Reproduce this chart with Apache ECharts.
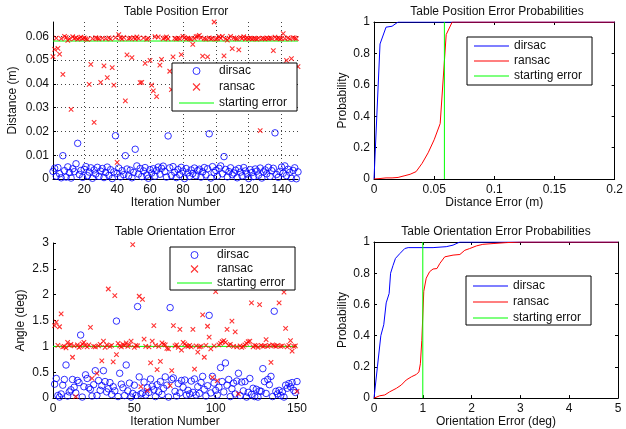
<!DOCTYPE html>
<html><head><meta charset="utf-8">
<script src="https://cdn.jsdelivr.net/npm/echarts@6/dist/echarts.min.js"></script>
<style>html,body{margin:0;padding:0;background:#fff}#c{width:626px;height:429px}</style>
</head><body><div id="c"></div>
<script>
// ---- Table Position Error (m), iterations 1..150 ----
const dirsacPos = [
0.0032,0.0045,0.0012,0.0048,0.0022,0.0005,0.0098,0.0035,0.0008,0.0051,
0.0027,0.0004,0.0043,0.0031,0.0064,0.0150,0.0019,0.0036,0.0007,0.0041,
0.0052,0.0014,0.0029,0.0047,0.0003,0.0038,0.0021,0.0049,0.0011,0.0033,
0.0044,0.0006,0.0027,0.0050,0.0015,0.0039,0.0002,0.0030,0.0182,0.0024,
0.0046,0.0009,0.0035,0.0018,0.0098,0.0042,0.0013,0.0037,0.0005,0.0028,
0.0125,0.0055,0.0021,0.0044,0.0010,0.0034,0.0048,0.0016,0.0003,0.0039,
0.0025,0.0043,0.0012,0.0036,0.0050,0.0020,0.0045,0.0054,0.0031,0.0008,
0.0181,0.0047,0.0015,0.0052,0.0028,0.0006,0.0040,0.0019,0.0049,0.0033,
0.0002,0.0044,0.0026,0.0011,0.0038,0.0023,0.0046,0.0014,0.0035,0.0041,
0.0008,0.0030,0.0048,0.0017,0.0043,0.0190,0.0004,0.0052,0.0027,0.0036,
0.0012,0.0045,0.0055,0.0022,0.0094,0.0040,0.0009,0.0031,0.0047,0.0018,
0.0025,0.0037,0.0005,0.0044,0.0029,0.0013,0.0048,0.0034,0.0021,0.0002,
0.0039,0.0027,0.0010,0.0042,0.0033,0.0016,0.0046,0.0004,0.0030,0.0038,
0.0022,0.0049,0.0011,0.0035,0.0045,0.0194,0.0019,0.0007,0.0032,0.0050,
0.0024,0.0055,0.0014,0.0041,0.0028,0.0003,0.0036,0.0047,0.0001,0.0030];
const ransacPos = [
0.0514,0.0545,0.0592,0.0549,0.0525,0.0590,0.0440,0.0600,0.0595,0.0583,
0.0589,0.0293,0.0598,0.0591,0.0594,0.0588,0.0592,0.0596,0.0590,0.0593,
0.0589,0.0587,0.0398,0.0482,0.0590,0.0238,0.0594,0.0591,0.0589,0.0406,
0.0592,0.0476,0.0590,0.0426,0.0593,0.0589,0.0468,0.0395,0.0594,0.0070,
0.0607,0.0592,0.0589,0.0595,0.0328,0.0522,0.0590,0.0592,0.0510,0.0594,
0.0589,0.0597,0.0591,0.0405,0.0406,0.0593,0.0486,0.0588,0.0591,0.0499,
0.0395,0.0370,0.0598,0.0346,0.0597,0.0479,0.0503,0.0590,0.0593,0.0597,
0.0589,0.0453,0.0376,0.0513,0.0591,0.0589,0.0592,0.0590,0.0523,0.0600,
0.0594,0.0589,0.0592,0.0590,0.0588,0.0566,0.0591,0.0598,0.0600,0.0604,
0.0593,0.0517,0.0590,0.0588,0.0513,0.0593,0.0589,0.0591,0.0660,0.0588,
0.0590,0.0598,0.0592,0.0600,0.0518,0.0589,0.0584,0.0592,0.0600,0.0548,
0.0593,0.0590,0.0589,0.0543,0.0595,0.0591,0.0598,0.0589,0.0593,0.0590,
0.0592,0.0589,0.0591,0.0590,0.0588,0.0592,0.0203,0.0590,0.0591,0.0589,
0.0593,0.0590,0.0592,0.0591,0.0540,0.0596,0.0590,0.0592,0.0589,0.0591,
0.0611,0.0590,0.0499,0.0593,0.0589,0.0506,0.0594,0.0592,0.0590,0.0472];
const startPos = 0.058;

// ---- Table Orientation Error (deg), iterations 1..150 ----
const dirsacOri = [
0.27,0.38,0.05,0.02,0.08,0.25,0.36,0.64,0.04,0.12,
0.16,0.36,0.21,0.10,0.34,0.30,1.22,0.02,0.22,0.45,
0.38,0.20,0.17,0.04,0.26,0.53,0.05,0.34,0.15,0.24,
0.53,0.32,0.12,0.18,0.30,0.07,0.22,0.14,1.49,0.03,
0.48,0.27,0.20,0.05,0.64,0.14,0.29,0.02,0.09,0.25,
0.05,1.77,0.41,0.08,0.10,0.31,0.06,0.20,0.11,0.37,
0.23,0.16,0.03,0.26,0.12,0.32,0.07,0.19,0.41,0.25,
0.02,1.75,0.36,0.39,0.13,0.04,0.28,0.10,0.34,0.21,
0.35,0.06,0.15,0.08,0.33,0.11,0.37,0.06,0.22,0.09,
0.30,0.42,0.17,0.04,0.24,1.60,0.10,0.42,0.29,0.15,
0.06,0.21,0.59,0.32,0.12,0.68,0.25,0.36,0.03,0.18,
0.29,0.08,0.33,0.48,0.05,0.31,0.14,0.32,0.02,0.11,
0.38,0.07,0.19,0.03,0.17,0.02,0.14,0.13,0.57,0.32,
0.09,0.36,0.26,0.42,0.03,1.68,0.13,0.08,0.15,0.05,
0.12,0.02,0.25,0.19,0.28,0.22,0.30,0.15,0.11,0.32];
const ransacOri = [
1.40,1.47,1.02,1.38,1.63,0.99,1.00,0.97,1.08,1.02,
1.04,0.79,1.01,0.03,1.03,0.98,1.00,1.05,1.08,1.02,
0.99,1.03,1.37,0.38,1.00,0.99,0.48,1.01,1.04,0.72,
1.10,0.98,1.03,2.11,1.00,1.02,0.70,1.98,0.84,1.06,
1.01,0.99,1.04,1.02,1.07,1.00,1.03,1.10,2.97,0.98,
1.02,1.01,1.97,0.22,1.91,1.14,1.00,0.15,0.99,0.68,
1.10,1.40,1.02,0.55,1.00,0.71,1.07,1.04,1.03,0.96,
0.95,0.24,0.53,1.40,1.01,1.03,0.98,1.33,0.93,1.08,
1.05,1.01,1.00,1.02,0.99,1.33,0.56,1.01,0.89,0.99,
1.00,1.61,0.79,1.02,1.39,1.18,0.95,0.40,1.01,2.06,
0.34,1.03,1.06,1.09,1.11,1.08,1.33,1.02,1.04,1.49,
1.00,1.28,0.99,0.08,1.01,0.98,1.00,1.03,1.06,1.09,
1.10,1.84,0.99,1.02,1.01,0.98,1.81,1.02,1.00,1.01,
1.13,1.00,1.02,0.69,1.03,1.01,1.00,1.02,1.84,1.00,
1.01,2.05,1.35,0.99,1.02,1.11,0.91,1.00,1.01,0.13];
const startOri = 1;

// ---- Probability curves ----
const posCdfDirsacX = [0, 0.005, 0.01, 0.015, 0.02, 0.2];
const posCdfDirsacY = [0, 0.86, 0.967, 0.973, 1, 1];
const posCdfRansacX = [0, 0.005, 0.01, 0.015, 0.02, 0.025, 0.03, 0.035, 0.04, 0.045, 0.05, 0.055, 0.06, 0.065, 0.2];
const posCdfRansacY = [0, 0.003, 0.007, 0.007, 0.01, 0.02, 0.03, 0.047, 0.1, 0.167, 0.25, 0.353, 0.92, 1, 1];
const oriCdfDirsacX = [0, 0.07, 0.14, 0.2, 0.25, 0.31, 0.34, 0.39, 0.44, 0.53, 0.63, 0.70, 1.21, 1.48, 1.62, 1.76, 5];
const oriCdfDirsacY = [0, 0.2, 0.4, 0.47, 0.61, 0.67, 0.8, 0.85, 0.895, 0.926, 0.958, 0.964, 0.964, 0.97, 0.98, 1, 1];
const oriCdfRansacX = [0, 0.12, 0.22, 0.32, 0.46, 0.56, 0.66, 0.77, 0.87, 0.92, 0.95, 0.98, 1.02, 1.07, 1.14, 1.21, 1.29, 1.35, 1.45, 1.62, 1.76, 1.86, 1.96, 2.1, 2.23, 2.44, 2.71, 3.0, 5];
const oriCdfRansacY = [0, 0.015, 0.02, 0.04, 0.063, 0.084, 0.116, 0.137, 0.152, 0.168, 0.22, 0.37, 0.684, 0.768, 0.81, 0.827, 0.83, 0.863, 0.905, 0.916, 0.92, 0.947, 0.958, 0.975, 0.985, 0.99, 0.996, 1, 1];
const startPosCdf = 0.0585;

// ---- tick labels ----
const posIterTicks = [20, 40, 60, 80, 100, 120, 140];
const posDistTicks = [0, 0.01, 0.02, 0.03, 0.04, 0.05, 0.06];

const titles = ['Table Position Error', 'Table Position Error Probabilities', 'Table Orientation Error', 'Table Orientation Error Probabilities'];
const legendNames = ['dirsac', 'ransac', 'starting error'];

// ---------------------------------------------------------------
const FONT = 'Liberation Sans, Arial, Helvetica, sans-serif';
const TXT = '#111';
const BLUE = '#0000ff', RED = '#ff0000', GREEN = '#00ff00';
const XSYM = 'path://M0,0L10,10M10,0L0,10';
const XICON = 'path://M0,0L10,10M10,0L0,10M-3,-3M13,13';
const LINEICON = 'path://M0,0H35V1.2H0Z';
const zip = (xs, ys) => xs.map((x, i) => [x, ys[i]]);
const idx = arr => arr.map((v, i) => [i + 1, v]);

function axisBase(extra) {
  return Object.assign({
    type: 'value',
    axisLine: { show: true, onZero: false, lineStyle: { color: '#000', width: 1 } },
    axisTick: { show: true, inside: true, length: 3, lineStyle: { color: '#000' } },
    axisLabel: { show: true, color: TXT, fontSize: 12, fontFamily: FONT, margin: 4 },
    splitLine: { show: false },
    nameTextStyle: { color: TXT, fontSize: 12, fontFamily: FONT },
    nameLocation: 'middle'
  }, extra);
}
function boxAxis(extra) {
  const a = axisBase(extra);
  a.axisLabel = { show: false };
  return a;
}
const dotted = { show: true, lineStyle: { color: '#444', type: [1, 3], width: 1 } };
const xLab = { show: true, color: TXT, fontSize: 12, fontFamily: FONT, margin: 5 };

const grids = [
  { left: 53, top: 22, width: 245, height: 157 },
  { left: 374, top: 22, width: 244, height: 157 },
  { left: 53, top: 243, width: 244, height: 156 },
  { left: 374, top: 242, width: 244, height: 158 }
];

const xAxes = [
  axisBase({ gridIndex: 0, position: 'bottom', min: 1, max: 150,
    axisTick: { show: true, inside: true, length: 3, lineStyle: { color: '#000' }, customValues: posIterTicks },
    axisLabel: Object.assign({ customValues: posIterTicks }, xLab),
    splitLine: dotted, name: 'Iteration Number', nameGap: 18 }),
  axisBase({ gridIndex: 1, position: 'bottom', min: 0, max: 0.2, interval: 0.05, name: 'Distance Error (m)', nameGap: 18, axisLabel: xLab }),
  boxAxis({ gridIndex: 1, position: 'top', min: 0, max: 0.2, interval: 0.05 }),
  axisBase({ gridIndex: 2, position: 'bottom', min: 0, max: 150, interval: 50, name: 'Iteration Number', nameGap: 17, axisLabel: xLab }),
  axisBase({ gridIndex: 3, position: 'bottom', min: 0, max: 5, interval: 1, name: 'Orientation Error (deg)', nameGap: 17, axisLabel: xLab }),
  boxAxis({ gridIndex: 3, position: 'top', min: 0, max: 5, interval: 1 })
];
const yAxes = [
  axisBase({ gridIndex: 0, position: 'left', min: 0, max: 0.066,
    axisTick: { show: true, inside: true, length: 3, lineStyle: { color: '#000' }, customValues: posDistTicks },
    axisLabel: { show: true, color: TXT, fontSize: 12, fontFamily: FONT, margin: 4, customValues: posDistTicks },
    splitLine: dotted, name: 'Distance (m)', nameGap: 34 }),
  axisBase({ gridIndex: 1, position: 'left', min: 0, max: 1, interval: 0.2, name: 'Probability', nameGap: 25 }),
  boxAxis({ gridIndex: 1, position: 'right', min: 0, max: 1, interval: 0.2 }),
  axisBase({ gridIndex: 2, position: 'left', min: 0, max: 3, interval: 0.5, name: 'Angle (deg)', nameGap: 26 }),
  axisBase({ gridIndex: 3, position: 'left', min: 0, max: 1, interval: 0.2, name: 'Probability', nameGap: 25 }),
  boxAxis({ gridIndex: 3, position: 'right', min: 0, max: 1, interval: 0.2 })
];

function scatterPair(k, xi, yi, dData, rData) {
  return [
    { type: 'scatter', name: 'dirsac#' + k, xAxisIndex: xi, yAxisIndex: yi, data: dData, z: 3,
      symbol: 'circle', symbolSize: 6.5,
      itemStyle: { color: 'rgba(0,0,0,0)', borderColor: BLUE, borderWidth: 1 } },
    { type: 'scatter', name: 'ransac#' + k, xAxisIndex: xi, yAxisIndex: yi, data: rData, z: 3,
      symbol: XSYM, symbolSize: 4.5,
      itemStyle: { color: 'rgba(0,0,0,0)', borderColor: RED, borderWidth: 1.1 } }
  ];
}
function lineS(name, xi, yi, data, color, z) {
  return { type: 'line', name: name, xAxisIndex: xi, yAxisIndex: yi, data: data, z: z || 2,
    symbol: 'none', showSymbol: false, lineStyle: { color: color, width: 1 }, itemStyle: { color: color } };
}

const series = [
  ...scatterPair(0, 0, 0, idx(dirsacPos), idx(ransacPos)),
  lineS('starting error#0', 0, 0, [[1, startPos], [150, startPos]], GREEN, 2),
  lineS('dirsac#1', 1, 1, zip(posCdfDirsacX, posCdfDirsacY), BLUE),
  lineS('ransac#1', 1, 1, zip(posCdfRansacX, posCdfRansacY), RED),
  lineS('starting error#1', 1, 1, [[startPosCdf, 0], [startPosCdf, 1]], GREEN),
  ...scatterPair(2, 3, 3, idx(dirsacOri), idx(ransacOri)),
  lineS('starting error#2', 3, 3, [[0, startOri], [150, startOri]], GREEN, 2),
  lineS('dirsac#3', 4, 4, zip(oriCdfDirsacX, oriCdfDirsacY), BLUE),
  lineS('ransac#3', 4, 4, zip(oriCdfRansacX, oriCdfRansacY), RED),
  lineS('starting error#3', 4, 4, [[startOri, 0], [startOri, 1]], GREEN)
];

const legendColors = [BLUE, RED, GREEN];
function legendAt(k, scatterIcons, left, top, padding, lineH, gap) {
  return {
    left: left, top: top, orient: 'vertical', padding: padding,
    data: legendNames.map((n, i) => {
      const item = { name: n + '#' + k };
      if (scatterIcons && i === 0) {
        item.icon = 'circle';
        item.itemStyle = { color: 'rgba(0,0,0,0)', borderColor: BLUE, borderWidth: 1 };
      } else if (scatterIcons && i === 1) {
        item.icon = XSYM;
        item.itemStyle = { color: 'rgba(0,0,0,0)', borderColor: RED, borderWidth: 1.1 };
      } else {
        item.icon = LINEICON;
        item.itemStyle = { color: legendColors[i], borderWidth: 0 };
      }
      return item;
    }),
    formatter: n => n.split('#')[0],
    backgroundColor: '#fff', borderColor: '#000', borderWidth: 1, borderRadius: 0,
    itemWidth: 35, itemHeight: 7, itemGap: gap, selectedMode: false, symbolKeepAspect: true,
    textStyle: { color: TXT, fontSize: 12, fontFamily: FONT, lineHeight: lineH }
  };
}

const titleDefs = [[176, 6], [497, 6], [175, 226], [496, 226]];

const option = {
  animation: false,
  backgroundColor: '#fff',
  title: titles.map((t, i) => ({ text: t, left: titleDefs[i][0], top: titleDefs[i][1], textAlign: 'center', padding: 0,
    textStyle: { color: TXT, fontSize: 12, fontWeight: 'normal', fontFamily: FONT } })),
  grid: grids,
  xAxis: xAxes,
  yAxis: yAxes,
  legend: [
    legendAt(0, true, 172, 63, [1, 10, 1, 7], 14, 2),
    legendAt(1, false, 467, 37, [2, 10, 2, 7], 14, 1),
    legendAt(2, true, 170, 247, [2, 10, 1, 7], 12, 2),
    legendAt(3, false, 466, 276, [3, 10, 0, 7], 14, 2)
  ],
  series: series
};

const chart = echarts.init(document.getElementById('c'), null, { renderer: 'canvas' });
chart.setOption(option);
</script>
</body></html>
